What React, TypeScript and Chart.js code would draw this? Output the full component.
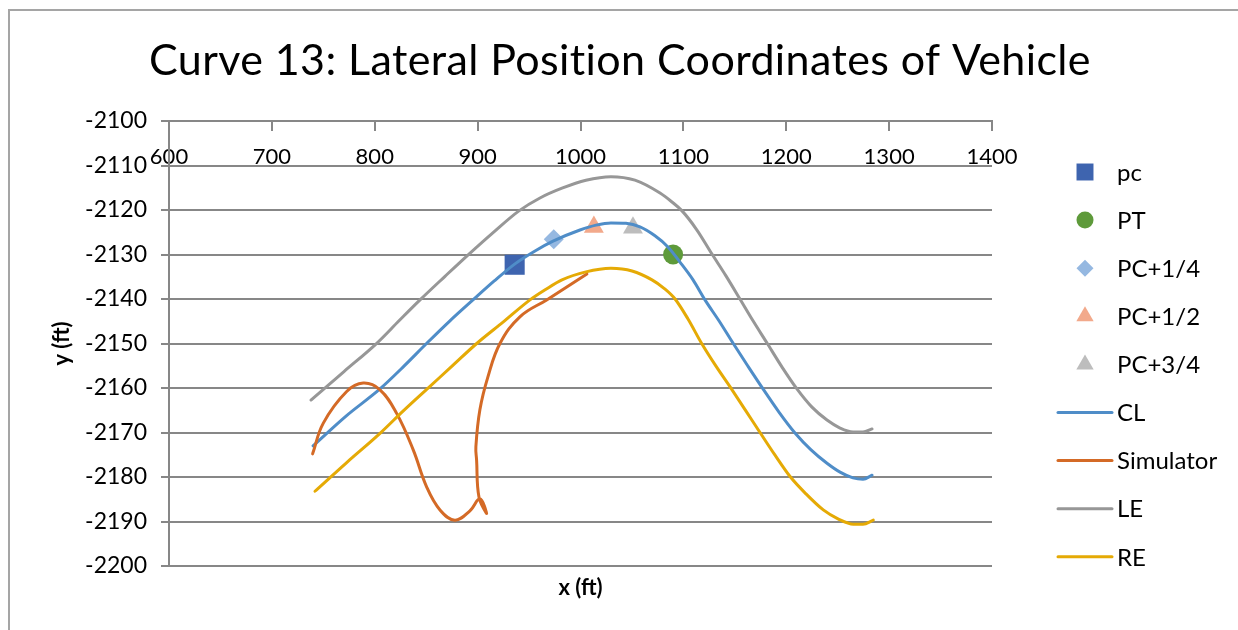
import React, { useEffect, useRef } from 'react';
import { Chart, registerables } from 'chart.js';
import { drawPoint } from 'chart.js/helpers';

Chart.register(...registerables);

// ---- text ----
const chartTitle = 'Curve 13: Lateral Position Coordinates of Vehicle';
const xAxisTitle = 'x (ft)';
const yAxisTitle = 'y (ft)';

// ---- axis ticks ----
const xTicks = [600, 700, 800, 900, 1000, 1100, 1200, 1300, 1400];
const yTicks = [-2200, -2190, -2180, -2170, -2160, -2150, -2140, -2130, -2120, -2110, -2100];

// ---- curve stations (single points) ----
const pcX = [936];
const pcY = [-2132.3];
const ptX = [1090];
const ptY = [-2130.0];
const pcQuarterX = [974];
const pcQuarterY = [-2126.6];
const pcHalfX = [1013];
const pcHalfY = [-2123.8];
const pcThreeQuarterX = [1051];
const pcThreeQuarterY = [-2124.0];

// ---- centre line ----
const clX = [740.0, 772.1, 805.1, 828.4, 850.8, 873.1, 895.5, 915.9, 936.3, 955.8, 973.3, 999.5, 1015.1, 1029.6, 1044.2, 1057.8, 1072.4, 1085.0, 1096.7, 1109.4, 1121.0, 1134.6, 1148.2, 1162.8, 1177.4, 1192.9, 1208.5, 1224.1, 1239.6, 1252.3, 1264.9, 1274.6, 1283.4];
const clY = [-2173.0, -2166.3, -2160.2, -2155.1, -2149.9, -2144.9, -2140.2, -2136.0, -2132.1, -2129.2, -2127.0, -2124.5, -2123.4, -2122.9, -2123.0, -2123.8, -2125.8, -2128.3, -2131.7, -2135.7, -2140.2, -2144.9, -2149.9, -2155.1, -2160.2, -2165.4, -2170.1, -2173.9, -2176.9, -2178.9, -2180.2, -2180.5, -2179.6];

// ---- simulator trace ----
const simX = [739.6, 750.0, 772.7, 788.8, 805.1, 821.3, 837.4, 850.4, 863.4, 877.9, 892.5, 902.2, 908.7, 901.3, 899.0, 898.3, 902.2, 910.0, 921.7, 941.1, 967.1, 1006.2];
const simY = [-2174.8, -2167.9, -2160.8, -2158.9, -2160.4, -2165.7, -2173.9, -2182.2, -2187.4, -2189.7, -2187.6, -2184.9, -2188.2, -2184.5, -2176.2, -2173.2, -2164.9, -2157.5, -2150.0, -2144.0, -2140.2, -2134.4];

// ---- left edge ----
const leX = [738.0, 770.1, 802.2, 823.6, 844.0, 868.3, 891.6, 915.9, 940.2, 960.6, 982.0, 1005.3, 1029.6, 1052.9, 1077.3, 1088.9, 1098.7, 1113.2, 1127.8, 1141.4, 1155.0, 1167.7, 1181.3, 1195.9, 1210.4, 1225.0, 1239.6, 1252.3, 1264.9, 1274.6, 1283.4];
const leY = [-2162.7, -2156.3, -2149.9, -2144.9, -2140.2, -2134.9, -2129.9, -2124.9, -2120.2, -2117.3, -2115.1, -2113.3, -2112.5, -2113.3, -2116.2, -2118.2, -2120.2, -2124.5, -2129.9, -2134.8, -2140.0, -2144.9, -2149.9, -2155.3, -2160.2, -2164.3, -2167.2, -2169.0, -2169.9, -2169.9, -2169.2];

// ---- right edge ----
const reX = [741.9, 773.0, 805.1, 827.5, 850.5, 875.1, 899.1, 924.7, 950.9, 966.5, 982.0, 1005.3, 1029.6, 1050.1, 1069.5, 1081.2, 1091.9, 1104.5, 1117.8, 1131.7, 1147.0, 1160.9, 1174.5, 1189.1, 1203.7, 1219.2, 1236.0, 1250.3, 1265.2, 1274.6, 1284.6];
const reY = [-2183.2, -2176.7, -2170.2, -2165.2, -2160.3, -2155.1, -2150.0, -2145.2, -2140.2, -2137.8, -2135.7, -2133.9, -2133.1, -2133.7, -2135.7, -2137.6, -2140.0, -2144.5, -2150.0, -2155.1, -2160.3, -2165.2, -2170.0, -2175.1, -2179.9, -2183.8, -2187.4, -2189.4, -2190.6, -2190.6, -2189.7];

const zip = (xs: number[], ys: number[]) => xs.map((x, i) => ({ x, y: ys[i] }));

const FONT = 'Lato, "Open Sans", sans-serif';
const AXIS_GREY = '#878787';

// border, title, x-axis title and the legend on the right
const framePlugin = {
  id: 'frame',
  beforeDraw(chart: any) {
    const { ctx, width, height } = chart;
    ctx.save();
    ctx.fillStyle = '#ffffff';
    ctx.fillRect(0, 0, width, height);
    ctx.strokeStyle = '#a5a5a5';
    ctx.lineWidth = 2;
    ctx.strokeRect(9, 10, width + 40, height + 40);
    ctx.restore();
  },
  afterDraw(chart: any) {
    const { ctx, chartArea, width } = chart;
    ctx.save();
    ctx.fillStyle = '#000000';
    ctx.textAlign = 'center';
    ctx.textBaseline = 'middle';

    ctx.font = `43px ${FONT}`;
    if ('letterSpacing' in ctx) (ctx as any).letterSpacing = '0.4px';
    ctx.fillText(chartTitle, width / 2 + 1, chartArea.top - 60);
    if ('letterSpacing' in ctx) (ctx as any).letterSpacing = '0px';

    ctx.font = `bold 22px ${FONT}`;
    ctx.fillText(xAxisTitle, (chartArea.left + chartArea.right) / 2, chartArea.bottom + 22);

    const markerX = chartArea.right + 93;
    let rowY = chartArea.top + 51;
    ctx.font = `24px ${FONT}`;
    ctx.textAlign = 'left';
    chart.data.datasets.forEach((ds: any) => {
      if (ds.showLine) {
        ctx.strokeStyle = ds.borderColor;
        ctx.lineWidth = 3;
        ctx.lineCap = 'round';
        ctx.beginPath();
        ctx.moveTo(markerX - 27, rowY);
        ctx.lineTo(markerX + 27, rowY);
        ctx.stroke();
      } else {
        ctx.fillStyle = ds.backgroundColor;
        drawPoint(ctx, { pointStyle: ds.pointStyle, radius: ds.legendRadius, rotation: 0, borderWidth: 0 }, markerX, rowY);
      }
      ctx.fillStyle = '#000000';
      ctx.fillText(ds.label, markerX + 32, rowY + 1);
      rowY += 48.1;
    });
    ctx.restore();
  },
};

export default function App() {
  const canvasRef = useRef<HTMLCanvasElement | null>(null);

  useEffect(() => {
    if (!canvasRef.current) return;
    Chart.defaults.font.family = FONT;

    const marker = (label: string, xs: number[], ys: number[], style: string, color: string, radius: number, legendRadius: number) => ({
      label,
      data: zip(xs, ys),
      showLine: false,
      pointStyle: style,
      backgroundColor: color,
      borderColor: color,
      pointRadius: radius,
      pointBorderWidth: 0,
      legendRadius,
      order: 10,
    });
    const curve = (label: string, xs: number[], ys: number[], color: string, order: number, monotone: boolean) => ({
      label,
      data: zip(xs, ys),
      showLine: true,
      borderColor: color,
      backgroundColor: color,
      borderWidth: 3,
      pointRadius: 0,
      tension: 0.4,
      cubicInterpolationMode: monotone ? 'monotone' : 'default',
      borderCapStyle: 'round',
      borderJoinStyle: 'round',
      order,
    });

    const chart = new Chart(canvasRef.current, {
      type: 'scatter',
      data: {
        datasets: [
          marker('pc', pcX, pcY, 'rect', '#3E64AF', 14.2, 12),
          marker('PT', ptX, ptY, 'circle', '#5E9A3A', 10, 8.5),
          marker('PC+1/4', pcQuarterX, pcQuarterY, 'rectRot', '#95B8E1', 10, 8.5),
          marker('PC+1/2', pcHalfX, pcHalfY, 'triangle', '#F2A98B', 11.5, 10),
          marker('PC+3/4', pcThreeQuarterX, pcThreeQuarterY, 'triangle', '#BDBDBD', 11.5, 10),
          curve('CL', clX, clY, '#4F8DC8', 4, true),
          curve('Simulator', simX, simY, '#D46A26', 3, false),
          curve('LE', leX, leY, '#979797', 2, true),
          curve('RE', reX, reY, '#E5AA05', 1, true),
        ] as any,
      },
      options: {
        responsive: false,
        animation: false,
        devicePixelRatio: 1,
        layout: { padding: { left: 0, top: 121, right: 246, bottom: 64 } },
        plugins: {
          legend: { display: false },
          tooltip: { enabled: false },
          title: { display: false },
        },
        scales: {
          x: {
            type: 'linear',
            position: { y: -2100 } as any,
            min: 600,
            max: 1400,
            afterBuildTicks: (scale: any) => {
              scale.ticks = xTicks.map((value) => ({ value }));
            },
            ticks: {
              autoSkip: false,
              maxRotation: 0,
              padding: 14,
              color: '#000000',
              font: { family: FONT, size: 22 },
              callback: (v: any) => String(v),
            },
            grid: {
              drawOnChartArea: false,
              drawTicks: true,
              tickLength: 9,
              color: AXIS_GREY,
              lineWidth: 2,
            },
            border: { display: true, color: AXIS_GREY, width: 2 },
          },
          y: {
            type: 'linear',
            position: 'left',
            min: -2200,
            max: -2100,
            afterBuildTicks: (scale: any) => {
              scale.ticks = yTicks.map((value) => ({ value }));
            },
            afterFit: (scale: any) => {
              scale.width = 169;
            },
            ticks: {
              padding: 14,
              color: '#000000',
              font: { family: FONT, size: 23 },
              callback: (v: any) => String(v),
            },
            grid: {
              color: AXIS_GREY,
              lineWidth: 2,
              drawTicks: true,
              tickLength: 8,
            },
            border: { display: true, color: AXIS_GREY, width: 2 },
            title: {
              display: true,
              text: yAxisTitle,
              color: '#000000',
              font: { family: FONT, size: 22, weight: 'bold' },
              padding: { top: 49, bottom: 0 },
            },
          },
        },
      },
      plugins: [framePlugin],
    } as any);

    return () => chart.destroy();
  }, []);

  return (
    <div style={{ position: 'absolute', left: 0, top: 0, width: 1238, height: 630, background: '#ffffff' }}>
      <canvas ref={canvasRef} width={1238} height={630} />
    </div>
  );
}
